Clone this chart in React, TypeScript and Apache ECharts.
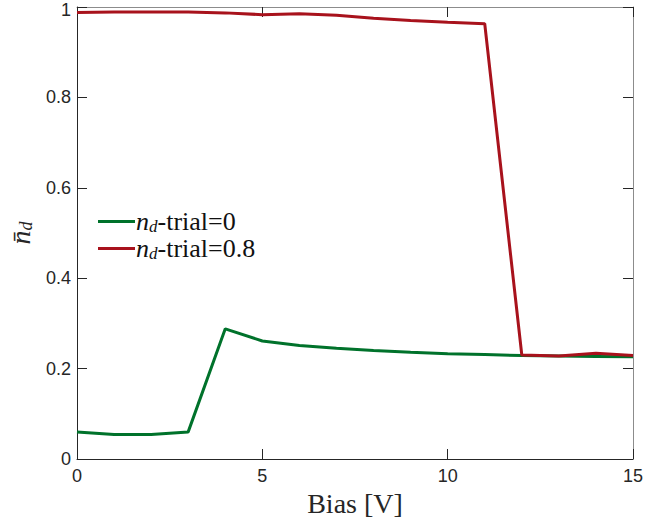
import React, { useEffect, useRef } from "react";
import * as echarts from "echarts";

const biasValues = [0, 1, 2, 3, 4, 5, 6, 7, 8, 9, 10, 11, 12, 13, 14, 15];
const trial0 = [0.06, 0.054, 0.054, 0.06, 0.288, 0.261, 0.251, 0.245, 0.24, 0.236, 0.233, 0.231, 0.229, 0.228, 0.227, 0.226];
const trial08 = [0.988, 0.989, 0.989, 0.989, 0.987, 0.983, 0.985, 0.982, 0.975, 0.970, 0.966, 0.963, 0.230, 0.228, 0.234, 0.229];
const seriesNames = ["trial0", "trial08"];
const legendLabels: Record<string, string> = {
  trial0: "{it|n}{sb|d}{tx|-trial=0}",
  trial08: "{it|n}{sb|d}{tx|-trial=0.8}",
};

export default function App() {
  const ref = useRef<HTMLDivElement>(null);
  useEffect(() => {
    if (!ref.current) return;
    const chart = echarts.init(ref.current, null, { renderer: "svg" });
    const axisColor = "#262626";
    const frameColor = "#8c8c8c";
    const labelFont = { fontFamily: "'Liberation Sans', Arial, sans-serif", fontSize: 18, color: "#262626" };
    const serif = "'Liberation Serif', 'DejaVu Serif', serif";
    const tick = { show: true, inside: true, length: 10, lineStyle: { color: axisColor, width: 1 } };
    chart.setOption({
      animation: false,
      backgroundColor: "#ffffff",
      grid: { left: 77, right: 12, top: 7, bottom: 62, containLabel: false, outerBoundsMode: "none" },
      legend: {
        left: 93,
        top: 203,
        orient: "vertical",
        itemWidth: 37,
        itemHeight: 3,
        itemGap: 0,
        icon: "rect",
        data: seriesNames,
        formatter: (name: string) => legendLabels[name],
        textStyle: {
          fontFamily: serif,
          fontSize: 26,
          color: "#111",
          padding: [0, 0, 0, -4],
          rich: {
            it: { fontFamily: serif, fontStyle: "italic", fontSize: 26, lineHeight: 28, color: "#111" },
            sb: { fontFamily: serif, fontStyle: "italic", fontSize: 17, lineHeight: 28, color: "#111", padding: [10, 0, 0, 0] },
            tx: { fontFamily: serif, fontStyle: "normal", fontSize: 26, lineHeight: 28, color: "#111" },
          },
        },
      },
      xAxis: [
        {
          type: "value",
          min: 0,
          max: 15,
          interval: 5,
          name: "Bias [V]",
          nameLocation: "middle",
          nameGap: 24,
          nameTextStyle: { fontFamily: serif, fontSize: 28, color: "#262626", verticalAlign: "top" },
          axisLine: { show: true, onZero: false, lineStyle: { color: axisColor, width: 1 } },
          axisTick: tick,
          axisLabel: { ...labelFont, margin: 8 },
          splitLine: { show: false },
        },
        {
          type: "value",
          position: "top",
          min: 0,
          max: 15,
          interval: 5,
          axisLine: { show: true, onZero: false, lineStyle: { color: frameColor, width: 1 } },
          axisTick: tick,
          axisLabel: { show: false },
          splitLine: { show: false },
        },
      ],
      yAxis: [
        {
          type: "value",
          min: 0,
          max: 1,
          interval: 0.2,
          name: "{it|n\u0304}{sb|d}",
          nameLocation: "middle",
          nameGap: 42,
          nameRotate: 90,
          nameTextStyle: {
            rich: {
              it: { fontFamily: serif, fontStyle: "italic", fontSize: 28, color: "#262626" },
              sb: { fontFamily: serif, fontStyle: "italic", fontSize: 18, color: "#262626", padding: [12, 0, 0, 0] },
            },
          },
          axisLine: { show: true, onZero: false, lineStyle: { color: axisColor, width: 1 } },
          axisTick: tick,
          axisLabel: {
            ...labelFont,
            margin: 6,
            lineHeight: 14,
            formatter: (v: number) => (v === 0 ? "0" : v === 1 ? "{one|1}" : String(v)),
            rich: {
              one: { ...labelFont, lineHeight: 14, padding: [6, 0, 0, 0] },
            },
          },
          splitLine: { show: false },
        },
        {
          type: "value",
          position: "right",
          min: 0,
          max: 1,
          interval: 0.2,
          axisLine: { show: true, onZero: false, lineStyle: { color: frameColor, width: 1 } },
          axisTick: tick,
          axisLabel: { show: false },
          splitLine: { show: false },
        },
      ],
      series: [
        {
          name: "trial0",
          type: "line",
          data: biasValues.map((x, i) => [x, trial0[i]]),
          showSymbol: false,
          symbol: "none",
          lineStyle: { color: "#00722B", width: 3 },
          itemStyle: { color: "#00722B" },
          z: 2,
        },
        {
          name: "trial08",
          type: "line",
          data: biasValues.map((x, i) => [x, trial08[i]]),
          showSymbol: false,
          symbol: "none",
          lineStyle: { color: "#A8121C", width: 3 },
          itemStyle: { color: "#A8121C" },
          z: 3,
        },
      ],
    });
    return () => chart.dispose();
  }, []);
  return <div ref={ref} style={{ position: "fixed", left: 0, top: 0, width: 645, height: 521 }} />;
}
